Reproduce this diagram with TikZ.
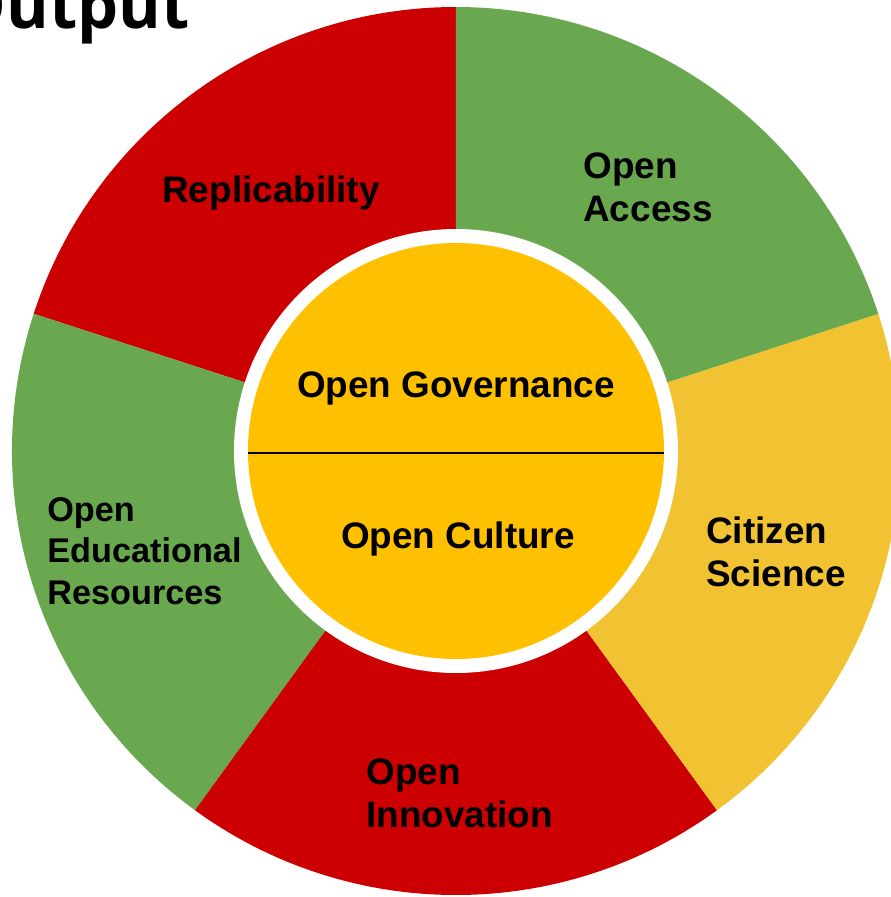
\documentclass[tikz,border=0pt]{standalone}
\usepackage{fontspec}
\setmainfont{Liberation Sans}
\newfontfamily\titlefont{Open Sans}
\usepackage{xcolor}
\usepackage{tikz}

\definecolor{segred}{HTML}{CC0000}
\definecolor{seggreen}{HTML}{6AA84F}
\definecolor{segyellow}{HTML}{F1C232}
\definecolor{coreyellow}{HTML}{FFC000}

\tikzset{
  lbl/.style={font=\bfseries\fontsize{21}{24.4}\selectfont, align=left, inner sep=0pt},
}

\begin{document}
\begin{tikzpicture}[x=0.02cm, y=0.02cm]
\useasboundingbox (-456,-446) rectangle (435,451);

\fill[segred] (0,0) -- (90:444) arc[start angle=90, end angle=162, radius=444] -- cycle;
\fill[seggreen] (0,0) -- (162:444) arc[start angle=162, end angle=234, radius=444] -- cycle;
\fill[segred] (0,0) -- (234:444) arc[start angle=234, end angle=306, radius=444] -- cycle;
\fill[segyellow] (0,0) -- (306:444) arc[start angle=306, end angle=378, radius=444] -- cycle;
\fill[seggreen] (0,0) -- (18:444) arc[start angle=18, end angle=90, radius=444] -- cycle;

\fill[white] (0,0) circle[radius=222];
\fill[coreyellow] (0,0) circle[radius=208];
\coordinate (left) at (-208,-2);
\coordinate (right) at (208,-2);
\draw[line width=1.1pt] (left) -- (right);

\node[font=\titlefont\bfseries\fontsize{37}{40}\selectfont, anchor=base east, inner sep=0pt] (title) at (-266,423) {Output};

\node[lbl, anchor=base] (gov) at (0,54) {Open Governance};
\node[lbl, anchor=base] (cult) at (2,-97) {Open Culture};
\node[lbl, anchor=base] (repl) at (-185,249) {Replicability};
\node[lbl, anchor=west] (access) at (127,264) {Open\\Access};
\node[lbl, anchor=west] (citizen) at (250,-101) {Citizen\\Science};
\node[lbl, anchor=west, font=\bfseries\fontsize{19.5}{23.5}\selectfont] (oer) at (-409,-100) {Open\\Educational\\Resources};
\node[lbl, anchor=west] (innov) at (-90,-342) {Open\\Innovation};
\end{tikzpicture}
\end{document}
